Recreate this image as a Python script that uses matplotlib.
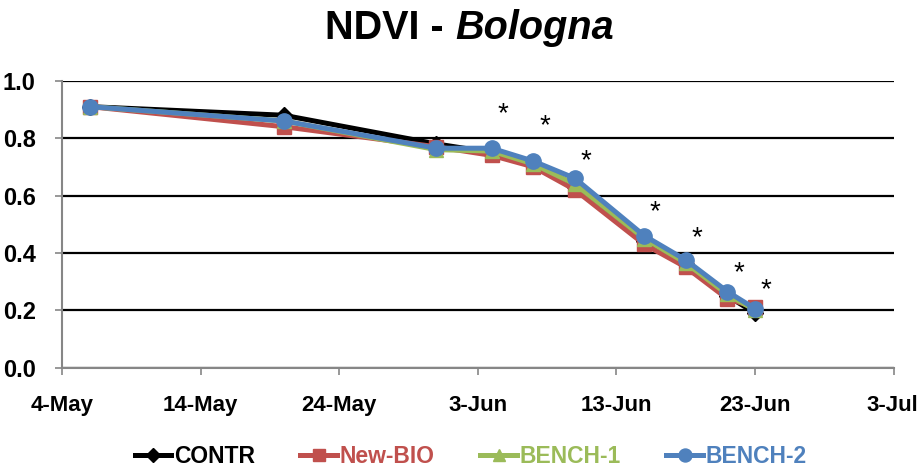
import matplotlib
matplotlib.use("Agg")
import matplotlib.pyplot as plt
import matplotlib.dates as mdates
import numpy as np
import datetime as dt

# data
dates = ["2020-05-06", "2020-05-20", "2020-05-31", "2020-06-04", "2020-06-07",
         "2020-06-10", "2020-06-15", "2020-06-18", "2020-06-21", "2020-06-23"]
contr = [0.91, 0.88, 0.78, 0.75, 0.71, 0.63, 0.44, 0.36, 0.25, 0.19]
new_bio = [0.91, 0.84, 0.77, 0.74, 0.70, 0.62, 0.43, 0.35, 0.24, 0.21]
bench1 = [0.91, 0.86, 0.76, 0.755, 0.71, 0.64, 0.45, 0.365, 0.255, 0.20]
bench2 = [0.91, 0.86, 0.765, 0.765, 0.72, 0.66, 0.46, 0.375, 0.265, 0.205]

# significance marks (date index, height)
star_idx = [3, 4, 5, 6, 7, 8, 9]
star_y = [0.895, 0.85, 0.73, 0.55, 0.46, 0.34, 0.28]

x = [dt.datetime.strptime(d, "%Y-%m-%d") for d in dates]

plt.rcParams["font.family"] = ["Liberation Sans", "DejaVu Sans"]

fig = plt.figure(figsize=(9.19, 4.70), dpi=100)
ax = fig.add_axes([0.0675, 0.218, 0.905, 0.610])

series = [
    ("CONTR", contr, "black", "D", 8),
    ("New-BIO", new_bio, "#C0504D", "s", 10),
    ("BENCH-1", bench1, "#9BBB59", "^", 10),
    ("BENCH-2", bench2, "#4F81BD", "o", 11),
]
for name, vals, col, mk, ms in series:
    ax.plot(x, vals, color=col, marker=mk, markersize=ms, linewidth=3.6,
            label=name, zorder=3)

for i, y in zip(star_idx, star_y):
    ax.annotate("*", (x[i], y), xytext=(8, -2), textcoords="offset points",
                ha="center", va="center", fontsize=20)

ax.set_xlim(dt.datetime(2020, 5, 4), dt.datetime(2020, 7, 3))
ax.set_ylim(0, 1.0)
ticks = [dt.datetime(2020, 5, 4) + dt.timedelta(days=10 * k) for k in range(7)]
ax.set_xticks(ticks)
ax.xaxis.set_major_formatter(mdates.DateFormatter("%-d-%b"))
ax.set_yticks(np.arange(0, 1.01, 0.2))
ax.yaxis.set_major_formatter(matplotlib.ticker.FormatStrFormatter("%.1f"))

ax.grid(axis="y", color="black", linewidth=1.6, zorder=0)
ax.set_axisbelow(True)
for s in ["top", "right"]:
    ax.spines[s].set_visible(False)
for s in ["left", "bottom"]:
    ax.spines[s].set_color("#868686")
    ax.spines[s].set_linewidth(1.5)
ax.tick_params(axis="both", colors="#868686", length=5, width=1.2)
ax.tick_params(axis="x", pad=15)
ax.tick_params(axis="y", pad=14)
for lab in ax.get_yticklabels():
    lab.set_color("black")
    lab.set_fontsize(17)
    lab.set_fontweight("bold")
for lab in ax.get_xticklabels():
    lab.set_color("black")
    lab.set_fontsize(16)
    lab.set_fontweight("bold")
# keep the last date label inside the figure
ax.get_xticklabels()[-1].set_horizontalalignment("right")
ax.get_xticklabels()[-1].set_x(ax.get_xticklabels()[-1].get_position()[0])
last = ax.get_xticklabels()[-1]
last.set_transform(last.get_transform() +
                   matplotlib.transforms.ScaledTranslation(24 / 100, 0, fig.dpi_scale_trans))

fig.text(0.495, 0.94, "NDVI - ", ha="right", va="center", fontsize=28.5,
         fontweight="bold")
fig.text(0.495, 0.94, "Bologna", ha="left", va="center", fontsize=28.5,
         fontweight="bold", style="italic")

leg = fig.legend(loc="lower center", bbox_to_anchor=(0.512, -0.04), ncol=4,
                 frameon=False, handlelength=1.6, handletextpad=0.1,
                 columnspacing=2.0, markerscale=0.85,
                 prop={"size": 16.5, "weight": "bold"})
for txt, (_, _, col, _, _) in zip(leg.get_texts(), series):
    txt.set_color(col)

fig.savefig("out.png", dpi=100)
